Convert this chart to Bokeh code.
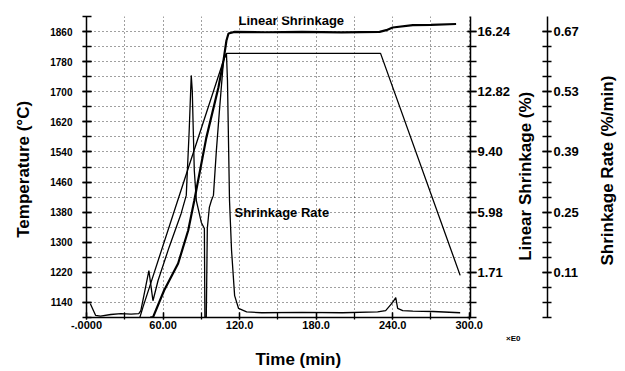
import math
import numpy as np
from bokeh.plotting import figure
from bokeh.models import Range1d, LinearAxis, FixedTicker, Label, Title
from bokeh.embed import file_html
from bokeh.resources import INLINE

# ---------------- data ----------------
# Furnace temperature (deg C) vs time (min)
temp_time = [41.8, 44.2, 76.6, 107.4, 109.7, 230.5, 292.9]
temp_value = [1100, 1127, 1464, 1783, 1802, 1802, 1212]

# Linear shrinkage (%) vs time (min)
shrink_time = [50.0, 52.1, 60.8, 71.8, 79.7, 84.5, 93.9, 103.4, 107.4, 109.7, 111.3,
               116.1, 140.0, 168.9, 200.0, 229.7, 235.0, 240.0, 255.8, 270.0, 289.7]
shrink_value = [0.0, 0.0, 1.53, 3.06, 4.94, 6.64, 10.2, 13.06, 14.60, 15.73, 16.13,
                16.22, 16.20, 16.22, 16.19, 16.22, 16.32, 16.47, 16.60, 16.62, 16.67]

# Shrinkage rate (%/min) vs time (min)
rate_time = [3.0, 7.1, 11.0, 19.0, 27.0, 35.0, 41.0, 42.6, 45.8, 48.9, 50.5, 52.1,
             56.1, 64.7, 74.2, 78.2, 80.5, 82.1, 82.9, 84.5, 86.1, 90.0, 92.4, 92.8,
             93.9, 94.7, 96.3, 97.9, 99.5, 101.8, 104.2, 107.4, 108.9, 109.7, 110.5,
             112.1, 113.7, 116.1, 119.2, 125.5, 137.4, 168.9, 200.5, 228.2, 234.5,
             240.0, 242.4, 243.9, 247.9, 255.8, 271.6, 292.9]
rate_value = [0.037, 0.010, 0.008, 0.012, 0.014, 0.013, 0.014, 0.021, 0.068, 0.114,
              0.079, 0.044, 0.091, 0.168, 0.247, 0.289, 0.440, 0.568, 0.533, 0.347,
              0.277, 0.226, 0.212, 0.006, 0.006, 0.212, 0.261, 0.277, 0.289, 0.393,
              0.486, 0.603, 0.614, 0.619, 0.556, 0.277, 0.161, 0.056, 0.026, 0.018,
              0.016, 0.017, 0.016, 0.018, 0.021, 0.040, 0.051, 0.026, 0.021, 0.020,
              0.019, 0.016]

# tick labels
time_tick_values = [0, 60, 120, 180, 240, 300]
time_tick_labels = ["-.0000", "60.00", "120.0", "180.0", "240.0", "300.0"]
temp_tick_values = [1140, 1220, 1300, 1380, 1460, 1540, 1620, 1700, 1780, 1860]
shrink_tick_values = [2.56, 5.98, 9.40, 12.82, 16.24]
shrink_tick_labels = ["1.71", "5.98", "9.40", "12.82", "16.24"]
rate_tick_values = [0.11, 0.25, 0.39, 0.53, 0.67]
rate_tick_labels = ["0.11", "0.25", "0.39", "0.53", "0.67"]

FONT = "Liberation Sans"
NBSP = "\u00a0"

p = figure(frame_width=384, frame_height=301,
           x_range=Range1d(0, 301), y_range=Range1d(1100, 1900),
           output_backend="svg", toolbar_location=None,
           min_border_left=86, min_border_right=150,
           min_border_top=16, min_border_bottom=54,
           outline_line_color=None)
p.extra_y_ranges = {"shrink": Range1d(-0.005, 17.095),
                    "rate": Range1d(0.005, 0.705)}


def style_axis(ax, size):
    ax.axis_line_color = "black"
    ax.axis_line_width = 1.5
    ax.major_tick_line_color = "black"
    ax.minor_tick_line_color = "black"
    ax.major_tick_line_width = 1.3
    ax.minor_tick_line_width = 1.3
    ax.major_tick_in = 5
    ax.major_tick_out = 4
    ax.minor_tick_in = 5
    ax.minor_tick_out = 4
    ax.major_label_text_font = FONT
    ax.major_label_text_font_style = "bold"
    ax.major_label_text_font_size = size
    ax.major_label_text_color = "black"
    ax.axis_label_text_font = FONT
    ax.axis_label_text_font_style = "bold"
    ax.axis_label_text_font_size = "17px"
    ax.axis_label_text_color = "black"


def right_title(ax, text, pad):
    # right-hand axis title that reads bottom-to-top like the original
    props = ax.properties()
    if "axis_label_orientation" in props and "axis_label_align" in props:
        ax.axis_label_orientation = math.pi / 2
        ax.axis_label_align = "start"
        ax.axis_label = NBSP * pad + text
    else:
        ax.axis_label = text


# x axis
xa = p.xaxis[0]
style_axis(xa, "11px")
xa.ticker = FixedTicker(ticks=time_tick_values,
                        minor_ticks=list(np.arange(0, 301, 30)))
xa.major_label_overrides = {v: l for v, l in zip(time_tick_values, time_tick_labels)}
xa.major_tick_out = 2
xa.minor_tick_out = 2
xa.major_label_standoff = 1

# left axis
ya = p.yaxis[0]
style_axis(ya, "10px")
ya.ticker = FixedTicker(ticks=temp_tick_values,
                        minor_ticks=list(np.arange(1100, 1901, 40)))
ya.major_label_standoff = 10
ya.axis_label = "Temperature  (°C)"
ya.axis_label_standoff = 14

# right axis 1: linear shrinkage
ax1 = LinearAxis(y_range_name="shrink",
                 ticker=FixedTicker(ticks=shrink_tick_values,
                                    minor_ticks=list(-0.005 + 0.855 * np.arange(21))))
style_axis(ax1, "13px")
ax1.major_tick_in = 3
ax1.minor_tick_in = 3
ax1.major_tick_out = 6
ax1.minor_tick_out = 6
ax1.major_label_standoff = 1
ax1.axis_label_standoff = 12
ax1.major_label_overrides = {v: l for v, l in zip(shrink_tick_values, shrink_tick_labels)}
right_title(ax1, "Linear  Shrinkage  (%)", 12)
p.add_layout(ax1, "right")

# right axis 2: shrinkage rate
ax2 = LinearAxis(y_range_name="rate",
                 ticker=FixedTicker(ticks=rate_tick_values,
                                    minor_ticks=list(0.005 + 0.035 * np.arange(21))))
style_axis(ax2, "13px")
ax2.major_label_standoff = 2
ax2.axis_label_standoff = 26
ax2.major_label_overrides = {v: l for v, l in zip(rate_tick_values, rate_tick_labels)}
right_title(ax2, "Shrinkage  Rate  (%/min)", 11)
p.add_layout(ax2, "right")

# grids
p.xgrid.ticker = FixedTicker(ticks=list(np.arange(0, 301, 30)))
p.ygrid.ticker = FixedTicker(ticks=list(np.arange(1100, 1901, 40)))
for g in (p.xgrid[0], p.ygrid[0]):
    g.grid_line_color = "black"
    g.grid_line_dash = "1 3"
    g.grid_line_width = 1
    g.grid_line_alpha = 0.75

# curves
p.line(temp_time, temp_value, line_color="black", line_width=1.3)
p.line(shrink_time, shrink_value, y_range_name="shrink", line_color="black", line_width=2.2)
p.line(rate_time, rate_value, y_range_name="rate", line_color="black", line_width=1.3)


# annotations inside the plot
def lab(text, x, y, size, align="left"):
    return Label(x=x, y=y, text=text,
                 text_font=FONT, text_font_style="bold", text_font_size=size,
                 text_color="black", text_baseline="middle", text_align=align)


p.add_layout(lab("Linear  Shrinkage", 119.2, 1889, "13px"))
p.add_layout(lab("Shrinkage  Rate", 116.0, 1379, "13px"))

# texts below the x axis
exp_title = Title(text="×E0", align="right", offset=-50, standoff=0,
                  text_font=FONT, text_font_style="bold", text_font_size="8px",
                  text_color="black")
time_title = Title(text="Time  (min)", align="left", offset=169, standoff=10,
                   text_font=FONT, text_font_style="bold", text_font_size="17px",
                   text_color="black")
p.add_layout(exp_title, "below")
p.add_layout(time_title, "below")

open("out.html", "w").write(file_html(p, INLINE))
